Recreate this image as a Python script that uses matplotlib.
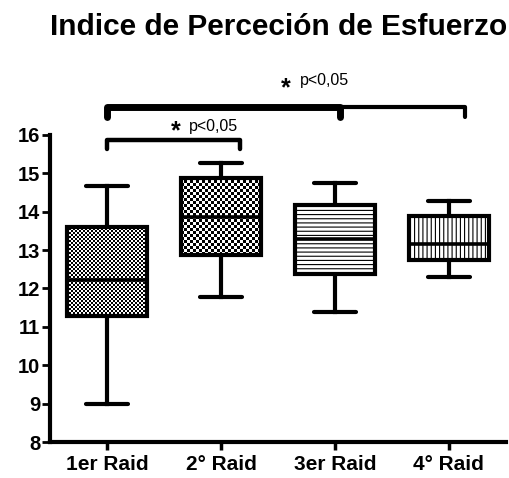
import numpy as np
import matplotlib
matplotlib.use('Agg')
from matplotlib import pyplot as plt

plt.rcParams['font.family'] = ['Liberation Sans', 'DejaVu Sans']
plt.rcParams['hatch.linewidth'] = 0.8

# data
cats = ['1er Raid', '2° Raid', '3er Raid', '4° Raid']
whislo = [9.0, 11.78, 11.38, 12.30]
q1 = [11.28, 12.87, 12.39, 12.74]
med = [12.22, 13.87, 13.29, 13.17]
q3 = [13.61, 14.89, 14.17, 13.89]
whishi = [14.67, 15.28, 14.74, 14.28]

# significance brackets: (x left, x right, y, label)
sig_small = (0.0, 1.165, 15.88, 'p<0,05')
sig_big = (0.0, 3.14, 16.73, 'p<0,05')

fig = plt.figure(figsize=(5.1, 4.78), dpi=100)
ax = fig.add_axes([0.098, 0.0753, 0.894, 0.6423])

stats = []
for i in range(len(cats)):
    stats.append(dict(med=med[i], q1=q1[i], q3=q3[i],
                      whislo=whislo[i], whishi=whishi[i], fliers=[]))

lw = 3.0
bp = ax.bxp(stats, positions=range(len(cats)), widths=0.7, capwidths=0.37,
            patch_artist=True, showfliers=False,
            boxprops=dict(facecolor='none', edgecolor='black', linewidth=lw),
            medianprops=dict(color='black', linewidth=2.6),
            whiskerprops=dict(color='black', linewidth=lw),
            capprops=dict(color='black', linewidth=lw, solid_capstyle='round'))

for b in bp['boxes']:
    b.set_zorder(3)
for m in bp['medians']:
    m.set_zorder(4)

ax.set_xlim(-0.5, 3.5)
ax.set_ylim(8, 16)

# checkerboard fills for the first two boxes
cell_px = [2.0, 3.0]
for i in range(2):
    x0, x1 = i - 0.35, i + 0.35
    p0 = ax.transData.transform((x0, q1[i]))
    p1 = ax.transData.transform((x1, q3[i]))
    nc = max(int(round((p1[0] - p0[0]) / cell_px[i])), 2)
    nr = max(int(round((p1[1] - p0[1]) / cell_px[i])), 2)
    yy, xx = np.mgrid[0:nr, 0:nc]
    board = ((xx + yy) % 2).astype(float)
    im = ax.imshow(board, cmap='gray', extent=[x0, x1, q1[i], q3[i]],
                   interpolation='nearest', aspect='auto', zorder=2)
    im.set_clip_path(bp['boxes'][i])

# line hatches for the last two
bp['boxes'][2].set_facecolor('white')
bp['boxes'][2].set_hatch('----')
bp['boxes'][3].set_facecolor('white')
bp['boxes'][3].set_hatch('||||')

ax.set_xticks(range(len(cats)))
ax.set_xticklabels(cats, fontsize=15, fontweight='bold')
ax.set_yticks(range(8, 17))
ax.set_yticklabels([str(v) for v in range(8, 17)], fontsize=14.5, fontweight='bold')
ax.tick_params(axis='x', length=6, width=2.5, pad=3)
ax.tick_params(axis='y', length=6, width=2, pad=1)

for s in ['top', 'right']:
    ax.spines[s].set_visible(False)
for s in ['left', 'bottom']:
    ax.spines[s].set_linewidth(3)

# small bracket 1er vs 2°
xl, xr, yb, lab = sig_small
ax.plot([xl, xl, xr, xr], [yb - 0.25, yb, yb, yb - 0.25], color='black',
        lw=3.2, solid_capstyle='round', solid_joinstyle='round', clip_on=False)
ax.text(0.60, 16.10, '*', fontsize=18, fontweight='bold', ha='center', va='center')
ax.text(0.72, 16.22, lab, fontsize=11.5, ha='left', va='center')

# big bracket 1er vs 3er and 4°
xl, xr, yb, lab = sig_big
xm = 2.04
ax.plot([xl, xl, xm, xm], [yb - 0.26, yb, yb, yb - 0.26], color='black',
        lw=5, solid_capstyle='round', solid_joinstyle='round', clip_on=False)
ax.plot([xm, xr, xr], [yb, yb, yb - 0.26], color='black',
        lw=3, solid_capstyle='round', solid_joinstyle='round', clip_on=False)
ax.text(1.57, 17.21, '*', fontsize=18, fontweight='bold', ha='center', va='center')
ax.text(1.69, 17.42, lab, fontsize=11.5, ha='left', va='center')

fig.text(0.546, 0.927, 'Indice de Perceción de Esfuerzo', fontsize=21.5,
         fontweight='bold', ha='center', va='baseline')

fig.savefig('out.png', dpi=100)
